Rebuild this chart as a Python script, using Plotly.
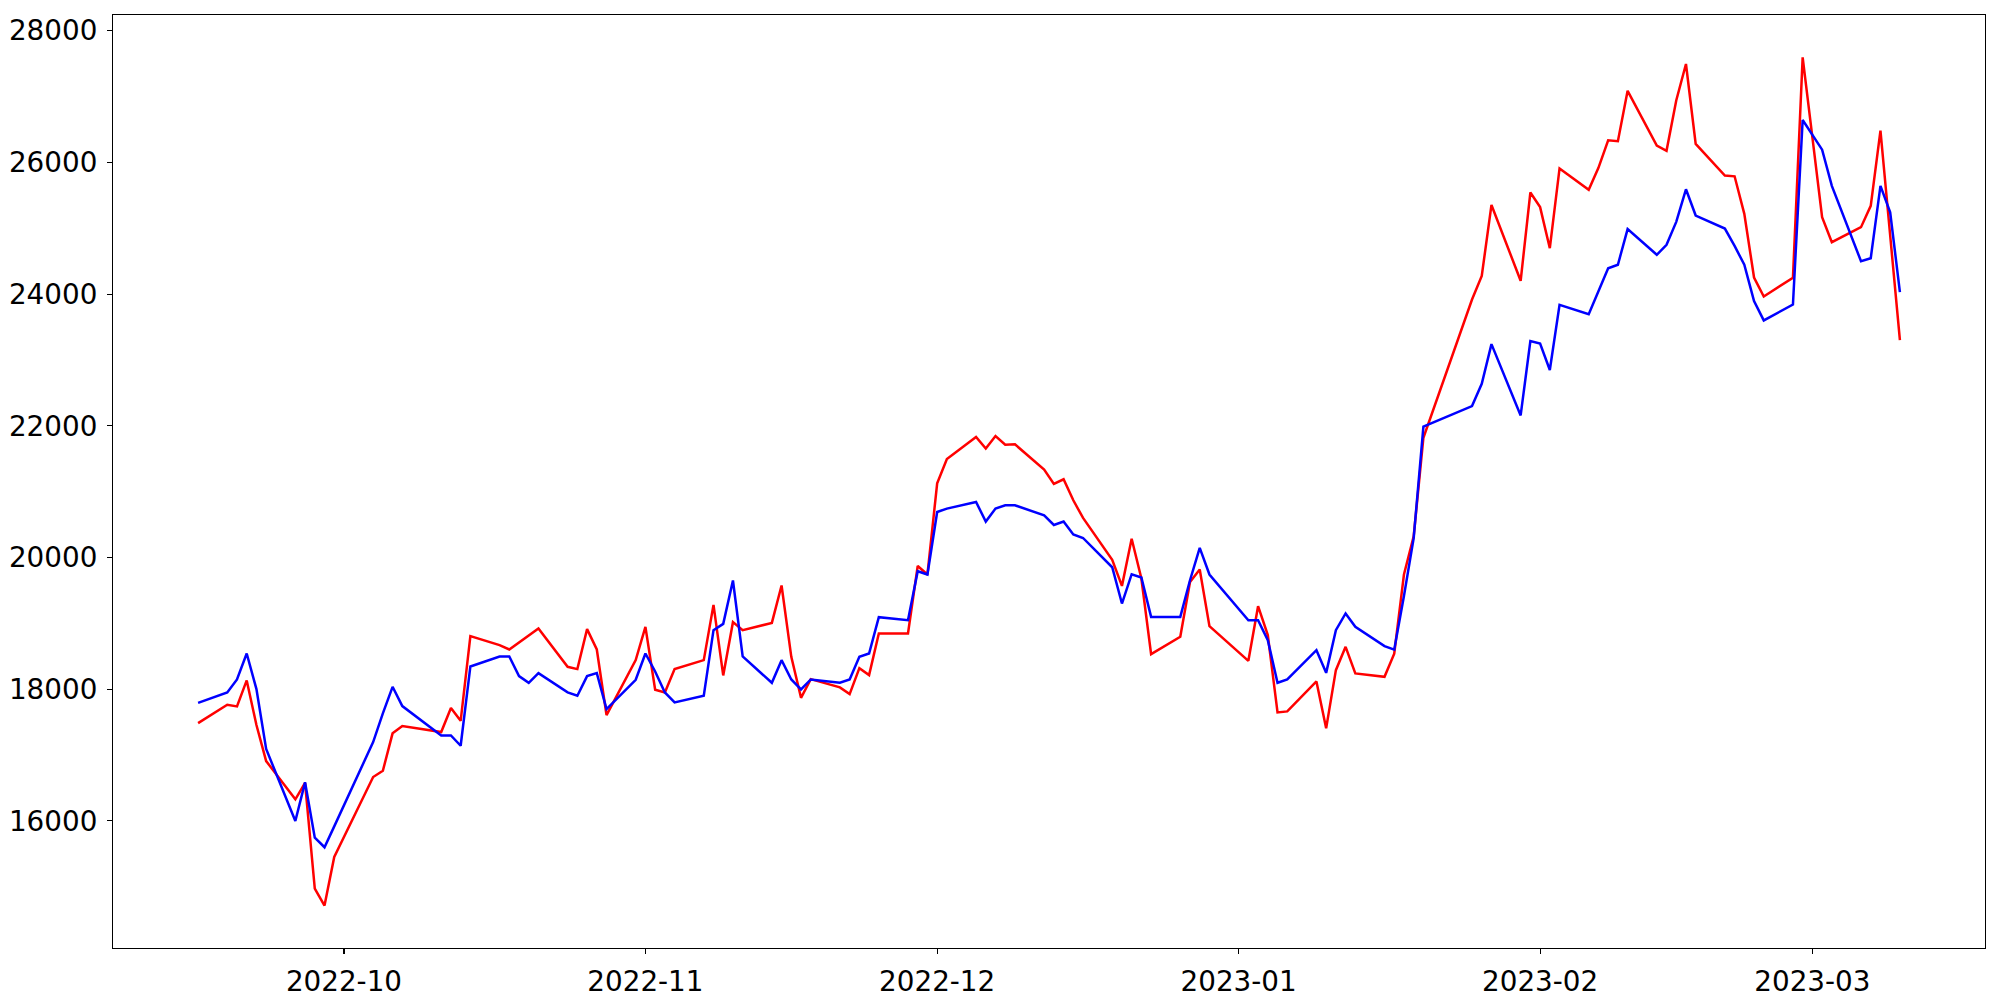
import plotly.graph_objects as go
import pandas as pd

# Trading days (Korean market calendar), Sep 2022 - Mar 2023
dates = (
    ["2022-09-%02d" % d for d in [16, 19, 20, 21, 22, 23, 26, 27, 28, 29, 30]]
    + ["2022-10-%02d" % d for d in [4, 5, 6, 7, 11, 12, 13, 14, 17, 18, 19, 20, 21, 24, 25, 26, 27, 28, 31]]
    + ["2022-11-%02d" % d for d in [1, 2, 3, 4, 7, 8, 9, 10, 11, 14, 15, 16, 17, 18, 21, 22, 23, 24, 25, 28, 29, 30]]
    + ["2022-12-%02d" % d for d in [1, 2, 5, 6, 7, 8, 9, 12, 13, 14, 15, 16, 19, 20, 21, 22, 23, 26, 27, 28, 29]]
    + ["2023-01-%02d" % d for d in [2, 3, 4, 5, 6, 9, 10, 11, 12, 13, 16, 17, 18, 19, 20, 25, 26, 27, 30, 31]]
    + ["2023-02-%02d" % d for d in [1, 2, 3, 6, 7, 8, 9, 10, 13, 14, 15, 16, 17, 20, 21, 22, 23, 24, 27, 28]]
    + ["2023-03-%02d" % d for d in [2, 3, 6, 7, 8, 9, 10]]
)

red_values = [
    # Sep
    17484, 17762, 17738, 18132, 17454, 16907, 16326, 16574, 14970, 14712, 15451,
    # Oct
    16665, 16760, 17328, 17439, 17348, 17712, 17519, 18804, 18668, 18602, 18709, 18812,
    18921, 18339, 18304, 18911, 18602, 17606, 18440,
    # Nov
    18946, 17990, 17950, 18304, 18440, 19280, 18208, 19017, 18895, 19006, 19574, 18490,
    17868, 18152, 18026, 17924, 18319, 18213, 18845, 18845, 19871, 19741,
    # Dec
    21126, 21495, 21829, 21653, 21844, 21713, 21718, 21334, 21116, 21187, 20868, 20600,
    19963, 19568, 20284, 19680, 18531, 18794, 19628, 19816, 18956,
    # Jan
    18430, 19260, 18820, 17646, 17662, 18117, 17404, 18288, 18642, 18238, 18187, 18537,
    19740, 20320, 21818, 23918, 24276, 25354, 24202, 25543,
    # Feb
    25321, 24697, 25909, 25584, 25917, 26337, 26323, 27088, 26255, 26176, 26940, 27495,
    26281, 25800, 25789, 25219, 24252, 23964, 24248, 27595,
    # Mar
    25167, 24788, 25016, 25340, 26483, 24890, 23300,
]

blue_values = [
    # Sep
    17792, 17950, 18147, 18541, 18000, 17090, 15997, 16584, 15744, 15598, 15915,
    # Oct
    17196, 17631, 18035, 17742, 17297, 17297, 17140, 18344, 18496, 18496, 18197, 18096,
    18243, 17950, 17899, 18197, 18243, 17697, 18142,
    # Nov
    18541, 18268, 17950, 17798, 17899, 18895, 18991, 19650, 18496, 18096, 18440, 18147,
    17995, 18147, 18096, 18147, 18490, 18541, 19093, 19047, 19791, 19741,
    # Dec
    20691, 20742, 20843, 20545, 20742, 20792, 20792, 20640, 20493, 20545, 20348, 20296,
    19851, 19300, 19745, 19695, 19097, 19097, 19654, 20145, 19741,
    # Jan
    19047, 19047, 18744, 18096, 18147, 18592, 18247, 18895, 19149, 18946, 18653, 18600,
    19413, 20293, 21987, 22299, 22637, 23240, 22157, 23288,
    # Feb
    23248, 22847, 23836, 23694, 24047, 24392, 24446, 24988, 24597, 24748, 25097, 25592,
    25193, 24996, 24733, 24445, 23893, 23600, 23842, 26645,
    # Mar
    26194, 25644, 24499, 24545, 25644, 25243, 24029,
]

y_ticks = [16000, 18000, 20000, 22000, 24000, 26000, 28000]

x = pd.to_datetime(dates)

fig = go.Figure()
fig.add_trace(go.Scatter(x=x, y=red_values, mode="lines",
                         line=dict(color="#ff0000", width=2.5), showlegend=False))
fig.add_trace(go.Scatter(x=x, y=blue_values, mode="lines",
                         line=dict(color="#0000ff", width=2.5), showlegend=False))

# matplotlib-style 5% margins
ymin = min(min(red_values), min(blue_values))
ymax = max(max(red_values), max(blue_values))
ypad = (ymax - ymin) * 0.05
xspan = x.max() - x.min()
xpad = xspan * 0.05

axis_common = dict(
    showgrid=False, zeroline=False, automargin=False,
    showline=True, linecolor="black", linewidth=1.1, mirror=True,
    ticks="outside", ticklen=5, tickwidth=1.1, tickcolor="black",
    tickfont=dict(family="DejaVu Sans", size=27.8, color="black"),
)

fig.update_xaxes(
    range=[x.min() - xpad, x.max() + xpad],
    tickformat="%Y-%m", dtick="M1", tick0="2022-10-01",
    ticklabelstandoff=4,
    **axis_common,
)
fig.update_yaxes(
    range=[ymin - ypad, ymax + ypad],
    tickvals=y_ticks, ticktext=[str(v) for v in y_ticks],
    ticklabelstandoff=4,
    **axis_common,
)

fig.update_layout(
    width=2000, height=1000,
    margin=dict(l=113, r=15, t=15, b=52, pad=0),
    paper_bgcolor="white", plot_bgcolor="white",
    font=dict(family="DejaVu Sans", color="black"),
    hovermode=False,
)

fig.write_html(
    "out.html",
    config={"displayModeBar": False, "staticPlot": True},
    post_script="document.body.style.margin='0px';document.body.style.overflow='hidden';",
)
